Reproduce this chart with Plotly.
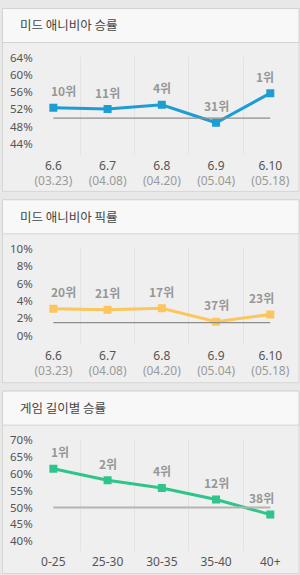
import plotly.graph_objects as go

W, H = 300, 575

# ---------------- data ----------------
patches = ["6.6", "6.7", "6.8", "6.9", "6.10"]
patch_dates = ["(03.23)", "(04.08)", "(04.20)", "(05.04)", "(05.18)"]

mid_winrate = [52.4, 52.1, 53.1, 48.9, 55.8]
mid_winrate_rank = ["10위", "11위", "4위", "31위", "1위"]
winrate_ref = 50

mid_pickrate = [3.1, 3.0, 3.15, 1.6, 2.45]
mid_pickrate_rank = ["20위", "21위", "17위", "37위", "23위"]
pickrate_ref = 1.5

game_length = ["0-25", "25-30", "30-35", "35-40", "40+"]
length_winrate = [61.5, 58.1, 55.8, 52.4, 47.9]
length_winrate_rank = ["1위", "2위", "4위", "12위", "38위"]
length_ref = 50

titles = ["미드 애니비아 승률", "미드 애니비아 픽률", "게임 길이별 승률"]
y_ticks_1 = [44, 48, 52, 56, 60, 64]
y_ticks_2 = [0, 2, 4, 6, 8, 10]
y_ticks_3 = [40, 45, 50, 55, 60, 65, 70]

colors = ["#1c9dd3", "#fcc65e", "#2fc48b"]

# ---------------- helpers ----------------
def px(x):
    return x / W

def py(y):
    return 1 - y / H

KFONT = "Noto Sans CJK KR"
fig = go.Figure()

patch_labels = [f"{p}<br><span style='color:#9a9a9a'>{d}</span>" for p, d in zip(patches, patch_dates)]

panels = [
    dict(cats=patches, ticktext=patch_labels, vals=mid_winrate, ranks=mid_winrate_rank,
         ref=winrate_ref, yticks=y_ticks_1, yrange=[41.5, 64.2], ydom=(49.83, 148.58),
         box=(0, 186), head=35, title_y=17, refcolor="#8e8e8e", refw=1.2),
    dict(cats=patches, ticktext=patch_labels, vals=mid_pickrate, ranks=mid_pickrate_rank,
         ref=pickrate_ref, yticks=y_ticks_2, yrange=[-1.05, 10.1], ydom=(243.42, 341.54),
         box=(194, 380), head=35, title_y=211.5, refcolor="#8e8e8e", refw=1.2),
    dict(cats=game_length, ticktext=game_length, vals=length_winrate, ranks=length_winrate_rank,
         ref=length_ref, yticks=y_ticks_3, yrange=[37.1, 70.1], ydom=(437.96, 550.6),
         box=(388, 573.5), head=35, title_y=405, refcolor="#b4b4b4", refw=2),
]

shapes = []
annotations = []
layout_axes = {}

x_left_px, x_right_px = 35, 297.4
first_px, step_px = 51.7, 54.6
xr = [-(first_px - x_left_px) / step_px, 4.5]

for i, p in enumerate(panels):
    n = i + 1
    xa = "x" if n == 1 else f"x{n}"
    ya = "y" if n == 1 else f"y{n}"
    c = colors[i]
    top, bot = p["box"]
    # panel body
    shapes.append(dict(type="rect", xref="paper", yref="paper", x0=px(0.5), x1=px(299),
                       y0=py(bot), y1=py(top + 0.5), fillcolor="#efefef",
                       line=dict(color="#d6d6d6", width=1), layer="below"))
    # header
    shapes.append(dict(type="rect", xref="paper", yref="paper", x0=px(0.5), x1=px(299),
                       y0=py(top + p["head"]), y1=py(top + 0.5), fillcolor="#f8f8f8",
                       line=dict(color="#d3d3d3", width=1), layer="below"))
    annotations.append(dict(xref="paper", yref="paper", x=px(16), y=py(p["title_y"]),
                            xanchor="left", yanchor="middle", showarrow=False,
                            text=titles[i], font=dict(family=KFONT, size=12.5, color="#454545")))

    # series
    fig.add_trace(go.Scatter(x=p["cats"], y=p["vals"], mode="lines+markers",
                             line=dict(color=c, width=3),
                             marker=dict(symbol="square", size=8, color=c),
                             xaxis=xa, yaxis=ya, showlegend=False))
    # reference line (drawn below the series)
    fig.add_trace(go.Scatter(x=[p["cats"][0], p["cats"][-1]], y=[p["ref"], p["ref"]],
                             mode="lines", line=dict(color=p["refcolor"], width=p["refw"]),
                             xaxis=xa, yaxis=ya, hoverinfo="skip", showlegend=False))
    # rank labels (positioned by category index on the category axis)
    last = len(p["cats"]) - 1
    for j, (v, r) in enumerate(zip(p["vals"], p["ranks"])):
        if j == 0:
            anchor, xs = "left", -4
        elif j == last:
            anchor, xs = "right", 6
        else:
            anchor, xs = "center", 0
        annotations.append(dict(xref=xa, yref=ya, x=j, y=v, text=r, showarrow=False,
                                xanchor=anchor, yanchor="middle", xshift=xs, yshift=17,
                                font=dict(family=KFONT, size=12, color="#979797", weight="bold")))

    ydom = [py(p["ydom"][1]), py(p["ydom"][0])]
    layout_axes["xaxis" if n == 1 else f"xaxis{n}"] = dict(
        domain=[px(x_left_px), px(x_right_px)], anchor=ya, type="category",
        categoryorder="array", categoryarray=p["cats"],
        range=xr, tickmode="array", tickvals=p["cats"], ticktext=p["ticktext"],
        tickson="boundaries", showgrid=True, gridcolor="#e3e3e3", gridwidth=1,
        showline=False, zeroline=False, ticks="", ticklabelstandoff=2,
        tickfont=dict(family="Noto Sans", size=12, color="#555555"), fixedrange=True)
    layout_axes["yaxis" if n == 1 else f"yaxis{n}"] = dict(
        domain=ydom, anchor=xa, range=p["yrange"], tickmode="array",
        tickvals=p["yticks"], ticktext=[f"{t}%" for t in p["yticks"]],
        showgrid=False, zeroline=False, showline=False, ticks="", ticklabelstandoff=3,
        tickfont=dict(family="Noto Sans", size=11.5, color="#555555"), fixedrange=True)

fig.update_layout(
    width=W, height=H, margin=dict(l=0, r=0, t=0, b=0),
    paper_bgcolor="#e8e8e8", plot_bgcolor="rgba(0,0,0,0)",
    shapes=shapes, annotations=annotations, showlegend=False,
    **layout_axes,
)

fig.write_html("out.html", config={"displayModeBar": False})
